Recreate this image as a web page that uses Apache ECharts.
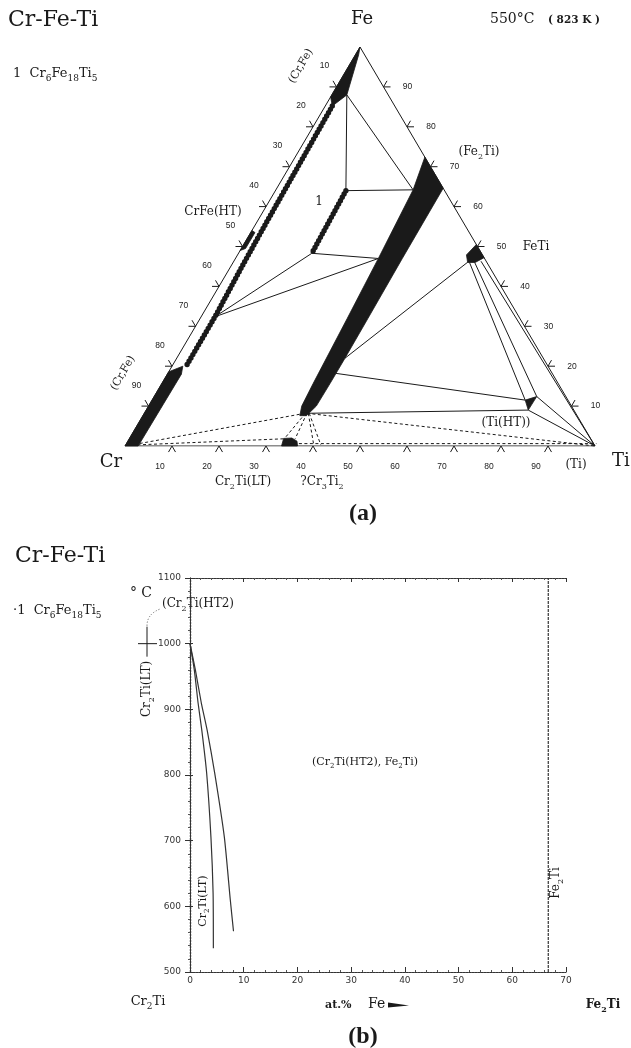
<!DOCTYPE html>
<html>
<head>
<meta charset="utf-8">
<script src="https://cdn.jsdelivr.net/npm/echarts@6/dist/echarts.min.js"></script>
<style>
  html, body { margin: 0; padding: 0; background: #fff; }
  #chart { width: 631px; height: 1048px; }
</style>
</head>
<body>
<div id="chart"></div>
<script>
// ---- (a) isothermal section 550 °C, every point is [at.% Ti, at.% Fe] ----
const vertexCr = [0, 0]
const vertexTi = [100, 0]
const vertexFe = [0, 100]
const ternaryTicks = [10, 20, 30, 40, 50, 60, 70, 80, 90]

// single phase fields (filled black)
const crFeFeCorner = [[0, 100], [0, 87.5], [1.5, 85.2], [3.2, 88], [0.7, 98]]
const crFeCrCorner = [[0, 0], [2.8, 0], [3, 18], [2.3, 20], [0, 18.6]]
const crFeHT = [[0, 49], [0, 54], [0.9, 53.5], [0.9, 49.5]]
const fe2TiBand = [[27.6, 72.4], [29.2, 64.2], [30.4, 47], [31.3, 32], [32.2, 15.7], [32.6, 10],
  [33.4, 7.6], [34.8, 7.6], [35.7, 10], [35.8, 15.7], [35.8, 22], [35.7, 32], [35.5, 47], [35.4, 64.6]]
const feTiBlob = [[49.5, 50.5], [52.8, 47.2], [51.5, 46], [49.9, 46], [48.7, 47.9]]
const cr2TiBlob = [[33.3, 0], [36.7, 0], [36, 1.2], [34.5, 2], [32.8, 1.9]]
const tiHTBlob = [[79.4, 11.5], [81.4, 12.4], [81.3, 9]]

// phase boundaries drawn as beaded lines
const crFeBoundary = [[1.5, 85.2], [1.7, 75], [1.9, 65], [2.1, 55], [2.4, 45], [2.95, 32.4], [3, 20]]
const phase1Line = [[15, 64], [15.3, 56], [15.6, 48.3]]

// tie lines / tie triangles
const solidTies = [
  [[3.2, 88], [15, 64], [29.2, 64.2], [3.2, 88]],
  [[15.6, 48.3], [30.4, 47], [2.95, 32.4], [15.6, 48.3]],
  [[49.9, 46.1], [35.8, 22]],
  [[50.3, 46], [79.4, 11.5]],
  [[51.4, 46], [81.4, 12.4]],
  [[52.6, 46.3], [100, 0]],
  [[81.4, 12.4], [100, 0]],
  [[81.3, 9], [100, 0]],
  [[35.8, 18.2], [79.4, 11.5]],
  [[34.6, 8.2], [81.3, 9]]
]
const dashedTies = [
  [[34.6, 8.2], [100, 0]],
  [[34.2, 8.2], [2.7, 0.6]],
  [[32.8, 1.8], [2.8, 0.3]],
  [[34.3, 8.2], [33, 1.9]],
  [[34.6, 8.2], [35.3, 1.8]],
  [[34.9, 8.2], [40, 0.3]],
  [[35.1, 8.2], [41.5, 0.3]],
  [[36.7, 0.6], [100, 0.6]]
]

// ---- (b) isopleth Cr2Ti - Fe2Ti, points are [at.% Fe, °C] ----
const solvusInner = [[0, 1000], [0.8, 960], [1.5, 910], [2.2, 868], [3.1, 803], [3.9, 705], [4.3, 620], [4.35, 536]]
const solvusOuter = [[0, 1000], [1.0, 960], [2.1, 910], [3.2, 868], [4.6, 803], [6.4, 705], [7.5, 610], [8.1, 562]]
const fe2TiLine = [[66.7, 500], [66.7, 1100]]
const cr2TiTransition = [[0, 1000]]

const ink = '#1a1a1a'
const serif = 'DejaVu Serif'
const numFont = 'Liberation Sans'

function toXY(p) {
  return [p[0] + p[1] / 2, p[1]]
}

function mapPoints(api, list) {
  return list.map(p => api.coord(toXY(p)))
}

function txt(x, y, text, o = {}) {
  const size = o.size || 12
  const family = o.family || serif
  const weight = o.weight || 'normal'
  return {
    type: 'text',
    x: x,
    y: y,
    rotation: o.rot || 0,
    silent: true,
    style: {
      text: text,
      fill: ink,
      fontFamily: family,
      fontSize: size,
      fontWeight: weight,
      lineHeight: Math.round(size * 1.4),
      align: o.align || 'center',
      textAlign: o.align || 'center',
      verticalAlign: 'middle',
      textVerticalAlign: 'middle',
      rich: {
        s: { fontFamily: family, fontSize: Math.round(size * 0.66), fontWeight: weight, fill: ink, verticalAlign: 'bottom' }
      }
    }
  }
}

const regions = [crFeFeCorner, crFeCrCorner, crFeHT, fe2TiBand, feTiBlob, cr2TiBlob, tiHTBlob]
const beaded = [crFeBoundary, phase1Line]
const ternaryTickItems = []
ternaryTicks.forEach(v => {
  ternaryTickItems.push([0, v], [1, v], [2, v])
})

function polyRender(list, style) {
  return function (params, api) {
    return {
      type: 'polyline',
      shape: { points: mapPoints(api, list[params.dataIndex]) },
      style: Object.assign({ stroke: ink, fill: null, lineWidth: 1 }, style)
    }
  }
}

const chart = echarts.init(document.getElementById('chart'))

chart.setOption({
  animation: false,
  backgroundColor: '#fff',
  grid: [
    { left: 125, top: 47, width: 470, height: 399, outerBoundsMode: 'none' },
    { left: 190, top: 578, width: 376, height: 394, outerBoundsMode: 'none' }
  ],
  xAxis: [
    { gridIndex: 0, type: 'value', min: 0, max: 100, show: false },
    {
      gridIndex: 1, type: 'value', min: 0, max: 70, interval: 10, position: 'bottom',
      axisLine: { lineStyle: { color: '#333', width: 1.2, type: [2, 1] } },
      axisTick: { inside: true, length: 5, lineStyle: { color: '#333' } },
      minorTick: { show: true, splitNumber: 5, length: 2, lineStyle: { color: '#555' } },
      splitLine: { show: false },
      axisLabel: { margin: 4, fontSize: 9, fontFamily: 'DejaVu Sans', color: '#333', formatter: v => String(v) }
    },
    {
      gridIndex: 1, type: 'value', min: 0, max: 70, interval: 10, position: 'top',
      axisLine: { lineStyle: { color: '#333', width: 1.2, type: [2, 1] } },
      axisTick: { inside: true, length: 4, lineStyle: { color: '#333' } },
      minorTick: { show: true, splitNumber: 5, length: 2, lineStyle: { color: '#555' } },
      splitLine: { show: false },
      axisLabel: { show: false }
    }
  ],
  yAxis: [
    { gridIndex: 0, type: 'value', min: 0, max: 100, show: false },
    {
      gridIndex: 1, type: 'value', min: 500, max: 1100, interval: 100, position: 'left',
      axisLine: { show: true, lineStyle: { color: '#333', width: 1.2, type: [2, 1] } },
      axisTick: { show: true, length: 5, lineStyle: { color: '#333' } },
      minorTick: { show: true, splitNumber: 5, length: 2, lineStyle: { color: '#555' } },
      splitLine: { show: false },
      axisLabel: { margin: 9, fontSize: 9, fontFamily: 'DejaVu Sans', color: '#333', formatter: v => String(v) }
    },
    {
      gridIndex: 1, type: 'value', min: 500, max: 1100, interval: 100, position: 'right',
      axisLine: { show: true, lineStyle: { color: '#333', width: 1.2, type: [2, 1] } },
      axisTick: { show: true, length: 3, lineStyle: { color: '#333' } },
      splitLine: { show: false },
      axisLabel: { show: false }
    }
  ],
  series: [
    {
      type: 'line', xAxisIndex: 0, yAxisIndex: 0, symbol: 'none', silent: true,
      data: [vertexCr, vertexTi, vertexFe, vertexCr].map(toXY),
      lineStyle: { color: ink, width: 1 }
    },
    {
      type: 'custom', xAxisIndex: 0, yAxisIndex: 0, silent: true,
      data: regions.map((r, i) => [i, 0]),
      renderItem(params, api) {
        return {
          type: 'polygon',
          shape: { points: mapPoints(api, regions[params.dataIndex]) },
          style: { fill: ink, stroke: ink, lineWidth: 0.8 }
        }
      }
    },
    {
      type: 'custom', xAxisIndex: 0, yAxisIndex: 0, silent: true,
      data: solidTies.map((r, i) => [i, 0]),
      renderItem: polyRender(solidTies, { lineWidth: 1 })
    },
    {
      type: 'custom', xAxisIndex: 0, yAxisIndex: 0, silent: true,
      data: dashedTies.map((r, i) => [i, 0]),
      renderItem: polyRender(dashedTies, { lineWidth: 1, lineDash: [3, 2.5] })
    },
    {
      type: 'custom', xAxisIndex: 0, yAxisIndex: 0, silent: true,
      data: beaded.map((r, i) => [i, 0]),
      renderItem(params, api) {
        const points = mapPoints(api, beaded[params.dataIndex])
        return {
          type: 'group',
          children: [
            { type: 'polyline', shape: { points }, style: { stroke: ink, fill: null, lineWidth: 3.2 } },
            { type: 'polyline', shape: { points }, style: { stroke: ink, fill: null, lineWidth: 5.4, lineDash: [0, 3.8], lineCap: 'round' } }
          ]
        }
      }
    },
    {
      // ternary edge ticks with their labels
      type: 'custom', xAxisIndex: 0, yAxisIndex: 0, silent: true,
      data: ternaryTickItems,
      renderItem(params, api) {
        const side = api.value(0)
        const v = api.value(1)
        const comp = side === 0 ? [v, 0] : side === 1 ? [0, 100 - v] : [100 - v, v]
        const p = api.coord(toXY(comp))
        const angles = [[240, 300], [120, 180], [0, 60]][side]
        const arm = a => [p[0] + 7 * Math.cos(a * Math.PI / 180), p[1] - 7 * Math.sin(a * Math.PI / 180)]
        const la = angles[0] * Math.PI / 180
        return {
          type: 'group',
          children: [
            { type: 'polyline', shape: { points: [arm(angles[0]), p, arm(angles[1])] }, style: { stroke: ink, fill: null, lineWidth: 1 } },
            {
              type: 'text', x: p[0] + 24 * Math.cos(la), y: p[1] - 24 * Math.sin(la),
              style: { text: String(v), fill: '#222', fontSize: 8.5, fontFamily: numFont, align: 'center', verticalAlign: 'middle' }
            }
          ]
        }
      }
    },
    {
      type: 'line', xAxisIndex: 1, yAxisIndex: 1, symbol: 'none', silent: true, smooth: 0.2,
      data: solvusInner, lineStyle: { color: '#333', width: 1.2 }
    },
    {
      type: 'line', xAxisIndex: 1, yAxisIndex: 1, symbol: 'none', silent: true, smooth: 0.2,
      data: solvusOuter, lineStyle: { color: '#333', width: 1.2 }
    },
    {
      type: 'line', xAxisIndex: 1, yAxisIndex: 1, symbol: 'none', silent: true,
      data: fe2TiLine, lineStyle: { color: '#333', width: 1.2, type: [3, 1] }
    },
    {
      // Cr2Ti LT/HT2 transition mark left of the temperature axis
      type: 'custom', xAxisIndex: 1, yAxisIndex: 1, silent: true,
      data: cr2TiTransition,
      renderItem(params, api) {
        const p = api.coord([api.value(0), api.value(1)])
        const cx = p[0] - 43
        return {
          type: 'group',
          children: [
            { type: 'line', shape: { x1: cx - 9, y1: p[1], x2: cx + 10, y2: p[1] }, style: { stroke: ink, lineWidth: 1 } },
            { type: 'line', shape: { x1: cx, y1: p[1] - 17, x2: cx, y2: p[1] + 13 }, style: { stroke: ink, lineWidth: 1 } },
            {
              type: 'bezierCurve',
              shape: { x1: cx, y1: p[1] - 18, x2: cx + 14, y2: p[1] - 35, cpx1: cx, cpy1: p[1] - 30 },
              style: { stroke: '#555', fill: null, lineWidth: 1, lineDash: [1, 2] }
            }
          ]
        }
      }
    }
  ],
  graphic: [
    // (a)
    txt(8, 20, 'Cr-Fe-Ti', { size: 22, align: 'left' }),
    txt(13, 74, '1  Cr{s|6}Fe{s|18}Ti{s|5}', { size: 13, align: 'left' }),
    txt(362, 19, 'Fe', { size: 18 }),
    txt(490, 19, '550°C', { size: 14, align: 'left' }),
    txt(548, 20, '( 823 K )', { size: 10.5, weight: 'bold', align: 'left' }),
    txt(111, 462, 'Cr', { size: 18 }),
    txt(621, 461, 'Ti', { size: 18 }),
    txt(301, 66, '(Cr,Fe)', { size: 11, rot: Math.PI / 3 }),
    txt(123, 373, '(Cr,Fe)', { size: 11, rot: Math.PI / 3 }),
    txt(213, 212, 'CrFe(HT)', { size: 12 }),
    txt(319, 202, '1', { size: 12 }),
    txt(479, 152, '(Fe{s|2}Ti)', { size: 12 }),
    txt(536, 247, 'FeTi', { size: 12 }),
    txt(506, 423, '(Ti(HT))', { size: 12 }),
    txt(576, 465, '(Ti)', { size: 12 }),
    txt(243, 482, 'Cr{s|2}Ti(LT)', { size: 12 }),
    txt(322, 482, '?Cr{s|3}Ti{s|2}', { size: 12 }),
    txt(363, 514, '(a)', { size: 24, weight: 'bold', family: 'Liberation Serif' }),
    // (b)
    txt(15, 556, 'Cr-Fe-Ti', { size: 22, align: 'left' }),
    txt(13, 611, '·1  Cr{s|6}Fe{s|18}Ti{s|5}', { size: 13, align: 'left' }),
    txt(141, 593, '° C', { size: 14 }),
    txt(162, 604, '(Cr{s|2}Ti(HT2)', { size: 12, align: 'left' }),
    txt(147, 689, 'Cr{s|2}Ti(LT)', { size: 12, rot: Math.PI / 2 }),
    txt(365, 762, '(Cr{s|2}Ti(HT2), Fe{s|2}Ti)', { size: 11 }),
    txt(556, 883, 'Fe{s|2}Ti', { size: 12, rot: Math.PI / 2 }),
    txt(203, 901, 'Cr{s|2}Ti(LT)', { size: 11, rot: Math.PI / 2 }),
    txt(148, 1002, 'Cr{s|2}Ti', { size: 13 }),
    txt(325, 1005, 'at.%', { size: 11, weight: 'bold', align: 'left' }),
    txt(368, 1004, 'Fe', { size: 14, align: 'left' }),
    {
      type: 'polygon', silent: true,
      shape: { points: [[388, 1002.5], [409, 1005.5], [388, 1007.5]] },
      style: { fill: ink }
    },
    txt(603, 1005, 'Fe{s|2}Ti', { size: 12, weight: 'bold' }),
    txt(363, 1037, '(b)', { size: 24, weight: 'bold', family: 'Liberation Serif' })
  ]
})
</script>
</body>
</html>
